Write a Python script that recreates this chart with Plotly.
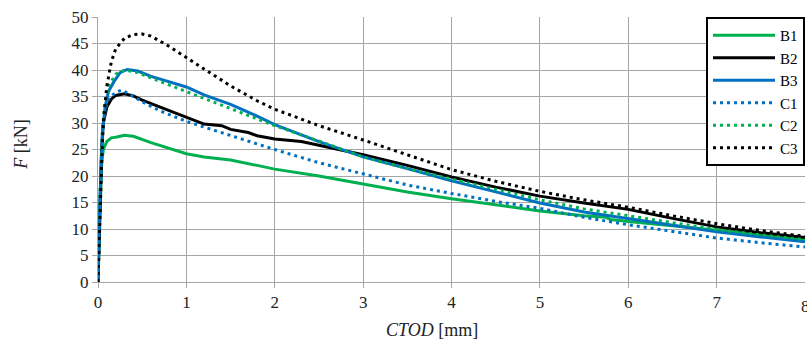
import plotly.graph_objects as go

# CTOD [mm] and F [kN]
b1_x = [0, 0.02, 0.04, 0.06, 0.1, 0.15, 0.2, 0.3, 0.4, 0.6, 0.8, 1.0, 1.2, 1.5, 1.8, 2.0, 2.5, 3.0, 3.5, 4.0, 4.5, 5.0, 5.5, 5.75, 5.8, 6.0, 6.5, 7.0, 7.5, 8.0]
b1_y = [0, 12, 22, 25, 26.5, 27.2, 27.3, 27.7, 27.5, 26.3, 25.2, 24.2, 23.6, 23.0, 22.0, 21.3, 20.0, 18.5, 17.0, 15.7, 14.5, 13.4, 12.5, 12.2, 11.8, 11.4, 10.6, 9.8, 8.9, 8.0]

b2_x = [0, 0.02, 0.04, 0.06, 0.1, 0.15, 0.2, 0.3, 0.4, 0.5, 0.7, 0.9, 1.0, 1.2, 1.4, 1.5, 1.7, 1.8, 2.0, 2.3, 2.5, 3.0, 3.5, 4.0, 4.5, 5.0, 5.5, 6.0, 6.5, 7.0, 7.5, 8.0]
b2_y = [0, 15, 25, 30, 33, 34.5, 35.2, 35.5, 35.1, 34.3, 33.0, 31.8, 31.2, 29.8, 29.5, 28.8, 28.2, 27.6, 27.0, 26.5, 25.8, 24.0, 22.0, 19.8, 17.9, 16.2, 14.9, 13.7, 12.0, 10.4, 9.3, 8.4]

b3_x = [0, 0.02, 0.05, 0.08, 0.12, 0.18, 0.25, 0.33, 0.45, 0.6, 0.8, 1.0, 1.2, 1.5, 1.8, 2.0, 2.5, 3.0, 3.5, 4.0, 4.5, 5.0, 5.5, 6.0, 6.5, 7.0, 7.5, 8.0]
b3_y = [0, 15, 28, 33, 36, 37.8, 39.5, 40.1, 39.8, 38.8, 37.8, 36.8, 35.3, 33.5, 31.3, 29.7, 26.5, 23.6, 21.4, 19.1, 17.0, 14.9, 13.2, 12.0, 10.7, 9.5, 8.5, 7.6]

c1_x = [0, 0.02, 0.05, 0.08, 0.12, 0.2, 0.27, 0.35, 0.5, 0.7, 1.0, 1.5, 2.0, 2.5, 3.0, 3.5, 4.0, 4.5, 5.0, 5.5, 6.0, 6.5, 7.0, 7.5, 8.0]
c1_y = [0, 15, 28, 32.5, 34.5, 35.8, 36.2, 35.5, 34.0, 32.3, 30.3, 27.6, 25.0, 22.5, 20.4, 18.3, 16.7, 15.2, 13.9, 12.2, 10.8, 9.5, 8.3, 7.4, 6.6]

c2_x = [0, 0.02, 0.05, 0.08, 0.12, 0.2, 0.3, 0.45, 0.6, 0.8, 1.0, 1.5, 2.0, 2.5, 3.0, 3.5, 4.0, 4.5, 5.0, 5.5, 6.0, 6.5, 7.0, 7.5, 8.0]
c2_y = [0, 15, 29, 34, 37, 39.2, 40.0, 39.5, 38.5, 37.2, 36.0, 32.8, 29.5, 26.6, 23.6, 21.4, 19.4, 17.4, 15.5, 13.8, 12.5, 11.2, 9.9, 8.9, 8.0]

c3_x = [0, 0.02, 0.04, 0.06, 0.1, 0.15, 0.2, 0.3, 0.4, 0.5, 0.6, 0.8, 1.0, 1.2, 1.5, 1.8, 2.0, 2.5, 3.0, 3.5, 4.0, 4.5, 5.0, 5.5, 6.0, 6.5, 7.0, 7.5, 8.0]
c3_y = [0, 12, 22, 30, 37, 41.5, 44, 46, 46.7, 46.8, 46.4, 44.5, 42.3, 40.2, 37.0, 34.2, 32.6, 29.5, 26.8, 24.0, 21.2, 19.0, 17.1, 15.5, 14.1, 12.5, 11.0, 9.7, 8.6]

x_ticks = [0, 1, 2, 3, 4, 5, 6, 7, 8]
y_ticks = [0, 5, 10, 15, 20, 25, 30, 35, 40, 45, 50]

names = ["B1", "B2", "B3", "C1", "C2", "C3"]
xs = [b1_x, b2_x, b3_x, c1_x, c2_x, c3_x]
ys = [b1_y, b2_y, b3_y, c1_y, c2_y, c3_y]
colors = ["#00B050", "#000000", "#0070C0", "#0070C0", "#00B050", "#000000"]
dashes = ["solid", "solid", "solid", "3px,4px", "3px,4px", "3px,4px"]

FONT = "Times New Roman"
GRID = "#A6A6A6"
TXT = "#222222"

fig = go.Figure()
for n, x, y, c, d in zip(names, xs, ys, colors, dashes):
    fig.add_trace(go.Scatter(x=x, y=y, name=n, mode="lines",
                             line=dict(color=c, width=3, dash=d)))

fig.update_layout(
    width=807, height=347,
    margin=dict(l=98, r=2, t=17, b=65),
    paper_bgcolor="white", plot_bgcolor="white",
    font=dict(family=FONT, size=17, color=TXT),
    showlegend=True,
    legend=dict(x=1, xanchor="right", y=1, yanchor="top",
                bgcolor="white", bordercolor="black", borderwidth=2,
                font=dict(family=FONT, size=15, color="black"),
                tracegroupgap=0, itemwidth=62),
    xaxis=dict(range=[0, 8], tickvals=x_ticks[:-1],
               showgrid=True, gridcolor=GRID, gridwidth=1,
               zeroline=False, showline=True, linecolor=GRID, linewidth=1,
               ticks="outside", ticklen=5, tickcolor=GRID,
               tickfont=dict(family=FONT, size=17, color=TXT)),
    yaxis=dict(range=[0, 50], tickvals=y_ticks,
               showgrid=True, gridcolor=GRID, gridwidth=1,
               zeroline=False, showline=True, linecolor=GRID, linewidth=1,
               ticks="outside", ticklen=5, tickcolor=GRID,
               tickfont=dict(family=FONT, size=17, color=TXT)),
    annotations=[
        dict(text=str(x_ticks[-1]), xref="x", yref="paper",
             x=x_ticks[-1], y=0, yshift=-24, xanchor="center", yanchor="middle",
             showarrow=False, font=dict(family=FONT, size=17, color=TXT)),
        dict(text="<i>CTOD</i> [mm]", xref="paper", yref="paper",
             x=0.4727, y=-0.18, xanchor="center", yanchor="middle",
             showarrow=False, font=dict(family=FONT, size=18, color=TXT)),
        dict(text="<i>F</i> [kN]", xref="paper", yref="paper",
             x=-0.108, y=0.52, xanchor="center", yanchor="middle", textangle=-90,
             showarrow=False, font=dict(family=FONT, size=18, color=TXT)),
    ],
)

fig.write_html("out.html")
